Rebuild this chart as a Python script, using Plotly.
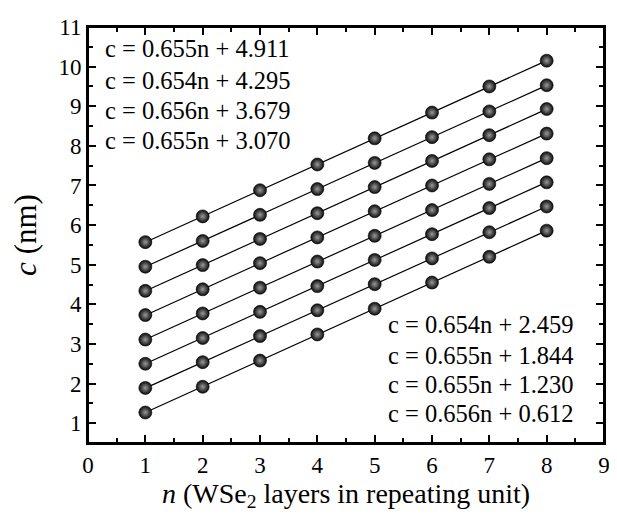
import plotly.graph_objects as go

n_layers = [1, 2, 3, 4, 5, 6, 7, 8]

c_series = [
    [1.27, 1.92, 2.58, 3.24, 3.89, 4.55, 5.20, 5.86],
    [1.89, 2.54, 3.20, 3.85, 4.51, 5.16, 5.82, 6.47],
    [2.50, 3.15, 3.81, 4.46, 5.12, 5.77, 6.43, 7.08],
    [3.11, 3.77, 4.42, 5.08, 5.73, 6.38, 7.04, 7.69],
    [3.73, 4.38, 5.04, 5.69, 6.35, 7.00, 7.66, 8.31],
    [4.34, 4.99, 5.65, 6.30, 6.96, 7.62, 8.27, 8.93],
    [4.95, 5.60, 6.26, 6.91, 7.57, 8.22, 8.87, 9.53],
    [5.57, 6.22, 6.88, 7.53, 8.19, 8.84, 9.50, 10.15],
]

slopes = [0.656, 0.655, 0.655, 0.654, 0.655, 0.656, 0.654, 0.655]
intercepts = [0.612, 1.230, 1.844, 2.459, 3.070, 3.679, 4.295, 4.911]

FONT = "Liberation Serif"

# page is offset by the default 8px body margin
OFF = 8
L, R, T, B = 88, 610, 22, 443          # plot area in screenshot pixels
W, H = 617 - OFF, 514 - OFF             # figure size

fig = go.Figure()

for a, b in zip(slopes, intercepts):
    xs = [n_layers[0], n_layers[-1]]
    fig.add_trace(go.Scatter(
        x=xs, y=[a * x + b for x in xs], mode="lines",
        line=dict(color="black", width=1.2), showlegend=False, hoverinfo="skip"))

for ys in c_series:
    fig.add_trace(go.Scatter(
        x=n_layers, y=ys, mode="markers", showlegend=False,
        marker=dict(size=13, color="#0a0a0a",
                    gradient=dict(type="radial", color="#9a9a9a"),
                    line=dict(width=0.6, color="black"))))

def eq_text(a, b):
    return f"c = {a:.3f}n + {b:.3f}"

top_idx = [7, 6, 5, 4]
top_y = [44, 76, 107, 137]
for i, py in zip(top_idx, top_y):
    fig.add_annotation(text=eq_text(slopes[i], intercepts[i]), xref="paper", yref="paper",
                       x=(103 - L) / (R - L), y=(B - py) / (B - T),
                       xanchor="left", yanchor="middle", showarrow=False,
                       font=dict(family=FONT, size=24.5, color="black"))

bot_idx = [3, 2, 1, 0]
bot_y = [323, 354, 384, 413]
for i, py in zip(bot_idx, bot_y):
    fig.add_annotation(text=eq_text(slopes[i], intercepts[i]), xref="paper", yref="paper",
                       x=(582 - L) / (R - L), y=(B - py) / (B - T),
                       xanchor="right", yanchor="middle", showarrow=False,
                       font=dict(family=FONT, size=24.5, color="black"))

axis_common = dict(
    showline=True, linecolor="black", linewidth=2, mirror="ticks",
    ticks="inside", ticklen=8, tickwidth=1.5, tickcolor="black",
    showgrid=False, zeroline=False,
    tickfont=dict(family=FONT, size=23, color="black"),
    minor=dict(ticks="inside", ticklen=5, tickwidth=1.5, tickcolor="black", dtick=0.5, showgrid=False),
)

fig.update_xaxes(range=[0, 9], dtick=1, tick0=0,
                 title=dict(text="<i>n</i> (WSe<sub>2</sub> layers in repeating unit)",
                            font=dict(family=FONT, size=28, color="black"), standoff=2),
                 **axis_common)
fig.update_yaxes(range=[0.5, 11], dtick=1, tick0=0,
                 title=dict(text="<i>c</i> (nm)",
                            font=dict(family=FONT, size=31, color="black"), standoff=20),
                 **axis_common)

fig.add_shape(type="rect", xref="paper", yref="paper", x0=0, y0=0, x1=1, y1=1,
              line=dict(color="black", width=2), layer="above")

fig.update_layout(
    width=W, height=H,
    margin=dict(l=L - OFF, r=W - (R - OFF), t=T - OFF, b=H - (B - OFF)),
    plot_bgcolor="white", paper_bgcolor="white",
    font=dict(family=FONT, color="black"),
)

fig.write_html("out.html")
